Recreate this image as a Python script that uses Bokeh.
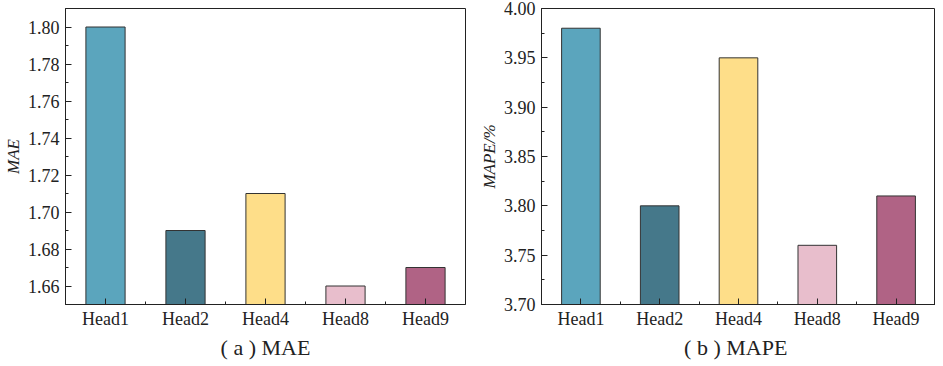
from bokeh.plotting import figure
from bokeh.layouts import row
from bokeh.models import Range1d, FixedTicker, PrintfTickFormatter
from bokeh.embed import file_html
from bokeh.resources import INLINE

heads = ["Head1", "Head2", "Head4", "Head8", "Head9"]
mae = [1.80, 1.69, 1.71, 1.66, 1.67]
mape = [3.98, 3.80, 3.95, 3.76, 3.81]
colors = ["#5BA5BD", "#45788A", "#FEDE89", "#E8BECC", "#B06385"]

mae_ticks = [1.66, 1.68, 1.70, 1.72, 1.74, 1.76, 1.78, 1.80]
mae_minor = [1.65, 1.67, 1.69, 1.71, 1.73, 1.75, 1.77, 1.79, 1.81]
mape_ticks = [3.70, 3.75, 3.80, 3.85, 3.90, 3.95, 4.00]
mape_minor = [3.725, 3.775, 3.825, 3.875, 3.925, 3.975]

FONT = "Liberation Serif"


def make(values, yrange, yticks, yminor, ylabel, title, width, height, mbl, mbr, mbt, mbb):
    xs = [i + 0.5 for i in range(len(heads))]
    p = figure(width=width, height=height, output_backend="svg", toolbar_location=None,
               x_range=Range1d(0, len(heads)), y_range=Range1d(*yrange),
               min_border_left=mbl, min_border_right=mbr, min_border_top=mbt,
               min_border_bottom=mbb)
    p.vbar(x=xs, top=values, bottom=0, width=0.49, fill_color=colors,
           line_color="#333333", line_width=1)
    p.xgrid.visible = False
    p.ygrid.visible = False
    p.outline_line_color = "#222222"
    p.outline_line_width = 1
    p.background_fill_color = "white"
    p.border_fill_color = "white"

    xa = p.xaxis[0]
    xa.ticker = FixedTicker(ticks=xs, minor_ticks=[1, 2, 3, 4])
    xa.major_label_overrides = {x: h for x, h in zip(xs, heads)}
    xa.major_tick_in = 6
    xa.major_tick_out = 0
    xa.minor_tick_in = 3
    xa.minor_tick_out = 0
    xa.axis_line_color = "#222222"
    xa.major_tick_line_color = "#222222"
    xa.minor_tick_line_color = "#222222"
    xa.major_label_text_font = FONT
    xa.major_label_text_font_size = "18px"
    xa.major_label_text_color = "#222222"
    xa.major_label_standoff = 4
    xa.axis_label = title
    xa.axis_label_text_font = FONT
    xa.axis_label_text_font_size = "22px"
    xa.axis_label_text_font_style = "normal"
    xa.axis_label_text_color = "#222222"
    xa.axis_label_standoff = 3

    ya = p.yaxis[0]
    ya.ticker = FixedTicker(ticks=yticks, minor_ticks=yminor)
    ya.formatter = PrintfTickFormatter(format="%.2f")
    ya.major_tick_in = 6
    ya.major_tick_out = 0
    ya.minor_tick_in = 3
    ya.minor_tick_out = 0
    ya.axis_line_color = "#222222"
    ya.major_tick_line_color = "#222222"
    ya.minor_tick_line_color = "#222222"
    ya.major_label_text_font = FONT
    ya.major_label_text_font_size = "18px"
    ya.major_label_text_color = "#222222"
    ya.major_label_standoff = 6
    ya.axis_label = ylabel
    ya.axis_label_text_font = FONT
    ya.axis_label_text_font_size = "17px"
    ya.axis_label_text_font_style = "italic"
    ya.axis_label_text_color = "#222222"
    ya.axis_label_standoff = 2
    return p


p1 = make(mae, (1.65, 1.81), mae_ticks, mae_minor, "MAE", "( a ) MAE", 474, 362, 64, 9, 8, 40)
p2 = make(mape, (3.70, 4.00), mape_ticks, mape_minor, "MAPE/%", "( b )  MAPE", 461, 362, 67, 0, 8, 40)

layout = row(p1, p2, spacing=0)
open("out.html", "w").write(file_html(layout, INLINE))
